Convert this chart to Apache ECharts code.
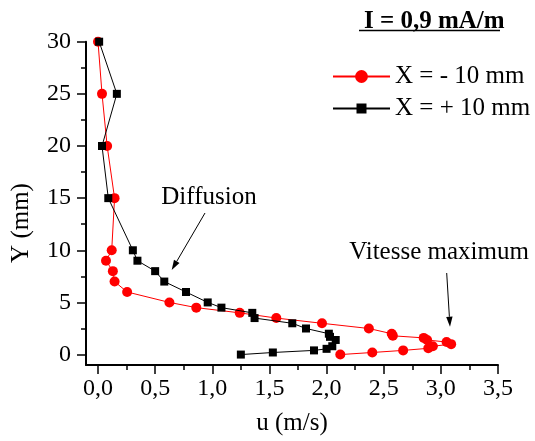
<!DOCTYPE html>
<html>
<head>
<meta charset="utf-8">
<script src="https://cdn.jsdelivr.net/npm/echarts@6/dist/echarts.min.js"></script>
<style>
html,body{margin:0;padding:0;background:#fff;}
#chart{width:535px;height:441px;}
</style>
</head>
<body>
<div id="chart"></div>
<script>
// ---- data ----
const redName = 'X = - 10 mm';
const redX = [0.0, 0.035, 0.08, 0.145, 0.12, 0.07, 0.13, 0.145, 0.255, 0.625, 0.86, 1.24, 1.56, 1.96, 2.37, 2.57, 2.58, 2.85, 2.88, 3.05, 3.09, 2.93, 2.89, 2.67, 2.40, 2.12];
const redY = [30, 25, 20, 15, 10, 9, 8, 7, 6, 5, 4.5, 4, 3.5, 3, 2.5, 2, 1.8, 1.6, 1.4, 1.2, 1.0, 0.8, 0.6, 0.4, 0.2, 0];

const blackName = 'X = + 10 mm';
const blackX = [0.01, 0.165, 0.035, 0.09, 0.305, 0.345, 0.50, 0.58, 0.77, 0.96, 1.08, 1.35, 1.37, 1.70, 1.82, 2.02, 2.03, 2.08, 2.05, 2.0, 1.89, 1.53, 1.25];
const blackY = [30, 25, 20, 15, 10, 9, 8, 7, 6, 5, 4.5, 4, 3.5, 3, 2.5, 2, 1.7, 1.4, 0.8, 0.55, 0.4, 0.2, 0];

const xTicks = [0, 0.5, 1.0, 1.5, 2.0, 2.5, 3.0, 3.5];
const xTickLabels = ['0,0', '0,5', '1,0', '1,5', '2,0', '2,5', '3,0', '3,5'];
const xMinorTicks = [0.25, 0.75, 1.25, 1.75, 2.25, 2.75, 3.25];
const yTicks = [0, 5, 10, 15, 20, 25, 30];
const yTickLabels = ['0', '5', '10', '15', '20', '25', '30'];
const yMinorTicks = [2.5, 7.5, 12.5, 17.5, 22.5, 27.5];

const titleText = 'I = 0,9 mA/m';
const xName = 'u (m/s)';
const yName = 'Y (mm)';
const note1 = 'Diffusion';
const note2 = 'Vitesse maximum';

// ---- chart ----
const FONT = 'Liberation Serif';
const chart = echarts.init(document.getElementById('chart'), null, {renderer: 'canvas'});

function pairs(xs, ys) { return xs.map((x, i) => [x, ys[i]]); }

function arrow(x1, y1, x2, y2) {
  const dx = x2 - x1, dy = y2 - y1, L = Math.hypot(dx, dy);
  const ux = dx / L, uy = dy / L, hl = 10, hw = 3.2;
  const bx = x2 - ux * hl, by = y2 - uy * hl;
  return [
    {type: 'line', shape: {x1, y1, x2: bx, y2: by}, style: {stroke: '#000', lineWidth: 1}},
    {type: 'polygon', shape: {points: [[x2, y2], [bx - uy * hw, by + ux * hw], [bx + uy * hw, by - ux * hw]]}, style: {fill: '#000'}}
  ];
}

const X_MIN = -0.105, X_MAX = 3.5, Y_MIN = -1, Y_MAX = 30;
const tickStyle = {color: '#000', width: 1.5};

function tickAxis(min, max, pos, values, len) {
  return {
    type: 'value', min, max, position: pos, offset: 0,
    axisLine: {show: false, onZero: false},
    axisTick: {show: true, inside: false, length: len, customValues: values, lineStyle: tickStyle},
    axisLabel: {show: false},
    splitLine: {show: false}
  };
}

const option = {
  backgroundColor: '#fff',
  animation: false,
  textStyle: {fontFamily: FONT, color: '#000'},
  title: {
    text: titleText, left: 359, top: 4,
    textStyle: {fontFamily: FONT, fontSize: 25, fontWeight: 'bold', color: '#000'}
  },
  legend: [
    {
      data: [redName], orient: 'vertical', left: 332, top: 64, padding: 0,
      itemWidth: 57, itemHeight: 16,
      textStyle: {fontFamily: FONT, fontSize: 25, color: '#000'}
    },
    {
      data: [blackName], orient: 'vertical', left: 332, top: 96, padding: 0,
      itemWidth: 57, itemHeight: 12.5,
      textStyle: {fontFamily: FONT, fontSize: 25, color: '#000'}
    }
  ],
  grid: {left: 86, right: 37, top: 41.7, bottom: 73.3},
  xAxis: [
    {
      type: 'value', min: X_MIN, max: X_MAX, position: 'bottom',
      axisLine: {show: true, onZero: false, lineStyle: {color: '#000', width: 2}},
      axisTick: {show: false},
      axisLabel: {
        show: true, margin: 12, customValues: xTicks,
        fontFamily: FONT, fontSize: 24, color: '#000',
        formatter: v => xTickLabels[xTicks.indexOf(Math.round(v * 100) / 100)]
      },
      splitLine: {show: false},
      name: xName, nameLocation: 'middle', nameGap: 46,
      nameTextStyle: {fontFamily: FONT, fontSize: 25, color: '#000'}
    },
    tickAxis(X_MIN, X_MAX, 'bottom', xTicks, 9),
    tickAxis(X_MIN, X_MAX, 'bottom', xMinorTicks, 5)
  ],
  yAxis: [
    {
      type: 'value', min: Y_MIN, max: Y_MAX, position: 'left',
      axisLine: {show: true, onZero: false, lineStyle: {color: '#000', width: 2}},
      axisTick: {show: false},
      axisLabel: {
        show: true, margin: 15, customValues: yTicks,
        fontFamily: FONT, fontSize: 24, color: '#000',
        formatter: v => yTickLabels[yTicks.indexOf(Math.round(v))]
      },
      splitLine: {show: false}
    },
    tickAxis(Y_MIN, Y_MAX, 'left', yTicks, 9),
    tickAxis(Y_MIN, Y_MAX, 'left', yMinorTicks, 5)
  ],
  series: [
    {
      name: redName, type: 'line', xAxisIndex: 0, yAxisIndex: 0,
      data: pairs(redX, redY), symbol: 'circle', symbolSize: 10,
      itemStyle: {color: '#ff0000'}, lineStyle: {color: '#ff0000', width: 1},
      clip: false, z: 2
    },
    {
      name: blackName, type: 'line', xAxisIndex: 0, yAxisIndex: 0,
      data: pairs(blackX, blackY), symbol: 'rect', symbolSize: 8,
      itemStyle: {color: '#000000'}, lineStyle: {color: '#000000', width: 1},
      clip: false, z: 3
    }
  ],
  graphic: [
    {type: 'line', shape: {x1: 359, y1: 30.5, x2: 500, y2: 30.5}, style: {stroke: '#000', lineWidth: 1.6}},
    {type: 'text', x: 21, y: 223, rotation: Math.PI / 2,
      style: {text: yName, font: '25px "Liberation Serif"', fill: '#000', align: 'center', verticalAlign: 'middle'}},
    {type: 'text', x: 209, y: 197,
      style: {text: note1, font: '25px "Liberation Serif"', fill: '#000', align: 'center', verticalAlign: 'middle'}},
    {type: 'text', x: 439, y: 252,
      style: {text: note2, font: '25px "Liberation Serif"', fill: '#000', align: 'center', verticalAlign: 'middle'}}
  ].concat(arrow(205, 213, 171.7, 270), arrow(446.7, 273, 450, 326.7))
};
chart.setOption(option);
</script>
</body>
</html>
